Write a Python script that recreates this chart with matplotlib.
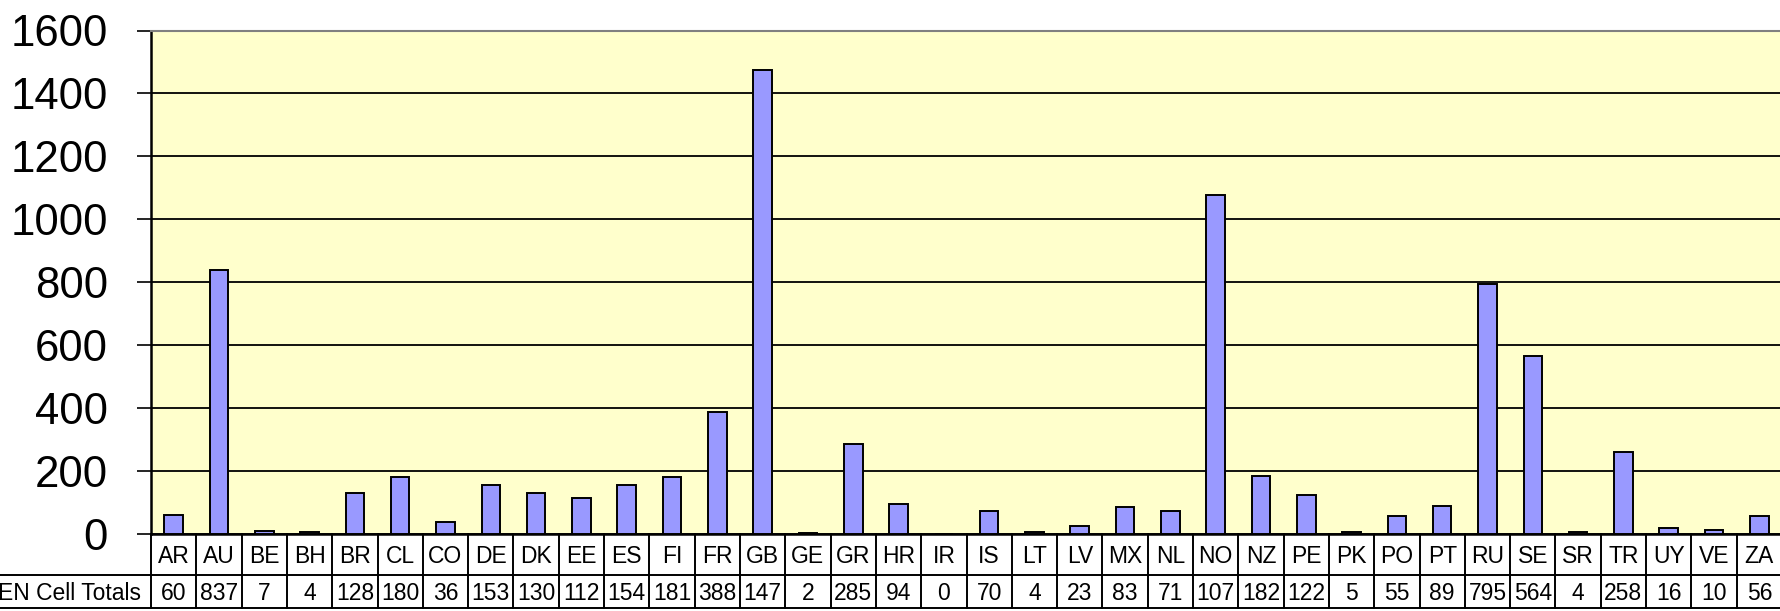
import matplotlib
matplotlib.use("Agg")
import matplotlib.pyplot as plt

categories = ["AR", "AU", "BE", "BH", "BR", "CL", "CO", "DE", "DK", "EE", "ES", "FI",
              "FR", "GB", "GE", "GR", "HR", "IR", "IS", "LT", "LV", "MX", "NL", "NO",
              "NZ", "PE", "PK", "PO", "PT", "RU", "SE", "SR", "TR", "UY", "VE", "ZA"]
values = [60, 837, 7, 4, 128, 180, 36, 153, 130, 112, 154, 181,
          388, 1475, 2, 285, 94, 0, 70, 4, 23, 83, 71, 1077,
          182, 122, 5, 55, 89, 795, 564, 4, 258, 16, 10, 56]
# texts as they appear (clipped) in the table row
table_text = ["60", "837", "7", "4", "128", "180", "36", "153", "130", "112", "154", "181",
              "388", "147", "2", "285", "94", "0", "70", "4", "23", "83", "71", "107",
              "182", "122", "5", "55", "89", "795", "564", "4", "258", "16", "10", "56"]
row_label = "EN Cell Totals"
yticks = [0, 200, 400, 600, 800, 1000, 1200, 1400, 1600]

plt.rcParams['font.family'] = ['Liberation Sans', 'DejaVu Sans']

W, H = 1780, 611
fig = plt.figure(figsize=(W / 100, H / 100), dpi=100)
left_px, right_px = 151, 1782
top_px, bot_px = 30.5, 533.5
ax = fig.add_axes([left_px / W, (H - bot_px) / H, (right_px - left_px) / W, (bot_px - top_px) / H])
ax.set_facecolor("#FFFFCC")
n = len(categories)
x = list(range(n))
ax.bar(x, values, width=0.41, color="#9999FF", edgecolor="black", linewidth=1.4, zorder=3)
ax.set_xlim(-0.5, n - 0.5)
ax.set_ylim(0, 1600)
ax.set_yticks(yticks)
ax.set_yticklabels([str(t) for t in yticks], fontsize=31.5)
ax.tick_params(axis='y', direction='out', length=10, width=1.2, pad=21, color='black')
ax.set_xticks([])
ax.yaxis.grid(True, color='black', linewidth=1.3, zorder=1)
ax.set_axisbelow(True)
ax.spines['top'].set_color('#808080')
ax.spines['top'].set_linewidth(1.5)
ax.spines['right'].set_visible(False)
ax.spines['left'].set_linewidth(1.8)
ax.spines['bottom'].set_linewidth(1.8)

# table below axis
tab_top, tab_mid, tab_bot = 534, 575, 608
tax = fig.add_axes([left_px / W, (H - tab_bot) / H, (right_px - left_px) / W, (tab_bot - tab_top) / H])
tax.set_xlim(-0.5, n - 0.5)
tax.set_ylim(tab_bot, tab_top)
tax.axis('off')
lw = 1.4
for k in range(n + 1):
    tax.plot([k - 0.5, k - 0.5], [tab_top, tab_bot], color='black', linewidth=lw, clip_on=False)
tax.plot([-6, n], [tab_mid, tab_mid], color='black', linewidth=lw, clip_on=False)
tax.plot([-6, n], [tab_bot, tab_bot], color='black', linewidth=lw, clip_on=False)
fs = 16.5
for i, (c, t) in enumerate(zip(categories, table_text)):
    tax.text(i, (tab_top + tab_mid) / 2 + 2.5, c, ha='center', va='center', fontsize=fs, clip_on=False)
    tax.text(i, (tab_mid + tab_bot) / 2 + 2, t, ha='center', va='center', fontsize=fs, clip_on=False)
tax.text(-0.5 - 10 / 45.3, (tab_mid + tab_bot) / 2 + 2, row_label, ha='right', va='center',
         fontsize=fs, clip_on=False)

fig.savefig("out.png", dpi=100)
